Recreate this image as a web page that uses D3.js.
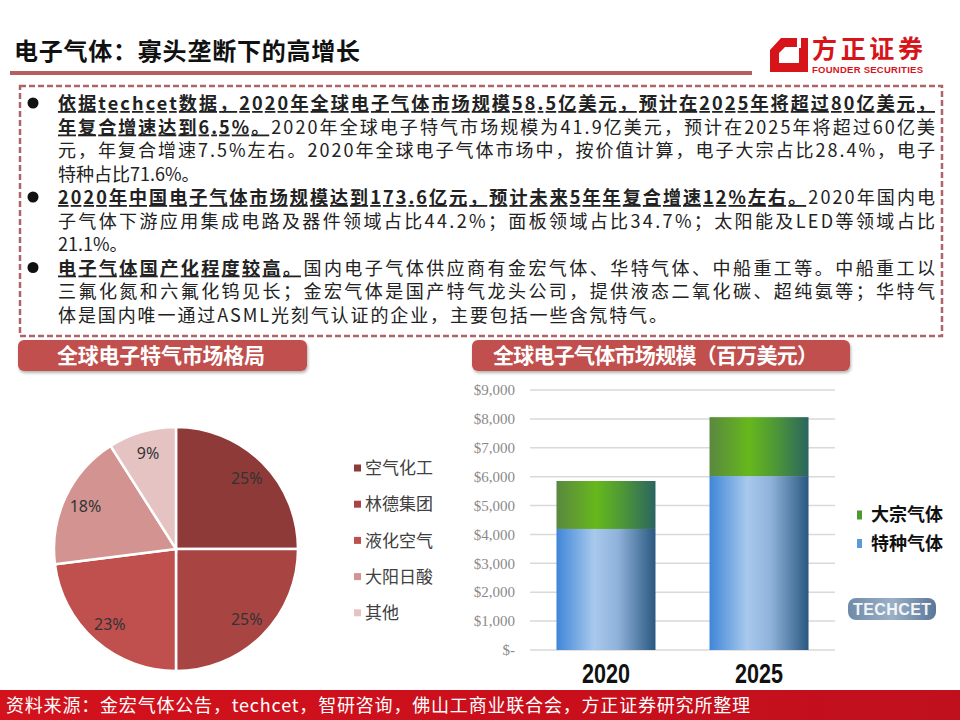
<!DOCTYPE html>
<html>
<head>
<meta charset="utf-8">
<script src="https://cdn.jsdelivr.net/npm/d3@7"></script>
<style>
  html, body { margin: 0; padding: 0; background: #fff; }
  svg { display: block; font-family: "Noto Sans CJK SC", "Noto Sans", sans-serif; }
</style>
</head>
<body>
<svg id="page" width="960" height="720"></svg>
<script>
"use strict";

/* global d3 */

// pie: global specialty gas market share
var pieNames = ['空气化工', '林德集团', '液化空气', '大阳日酸', '其他'],
    pieShares = [25, 25, 23, 18, 9],
    pieColors = ['#8e3a39', '#a84543', '#c0504d', '#d29391', '#e4c3c2'];

// stacked bars: global electronic gas market, million USD
var years = ['2020', '2025'],
    specialty = [4190, 6020],
    bulk = [1660, 2040],
    yTicks = [0, 1000, 2000, 3000, 4000, 5000, 6000, 7000, 8000, 9000],
    barLegend = ['大宗气体', '特种气体'];

// bullet text, one entry per printed line: [bold part, normal part]
var bodyLines = [
  ['依据techcet数据，2020年全球电子气体市场规模58.5亿美元，预计在2025年将超过80亿美元，', ''],
  ['年复合增速达到6.5%。', '2020年全球电子特气市场规模为41.9亿美元，预计在2025年将超过60亿美'],
  ['', '元，年复合增速7.5%左右。2020年全球电子气体市场中，按价值计算，电子大宗占比28.4%，电子'],
  ['', '特种占比71.6%。'],
  ['2020年中国电子气体市场规模达到173.6亿元，预计未来5年年复合增速12%左右。', '2020年国内电'],
  ['', '子气体下游应用集成电路及器件领域占比44.2%；面板领域占比34.7%；太阳能及LED等领域占比'],
  ['', '21.1%。'],
  ['电子气体国产化程度较高。', '国内电子气体供应商有金宏气体、华特气体、中船重工等。中船重工以'],
  ['', '三氟化氮和六氟化钨见长；金宏气体是国产特气龙头公司，提供液态二氧化碳、超纯氨等；华特气'],
  ['', '体是国内唯一通过ASML光刻气认证的企业，主要包括一些含氖特气。']
];
var bulletRows = [0, 4, 7];

var svg = d3.select('#page');
var defs = svg.append('defs');

// ---------- header ----------
svg.append('text')
    .attr('x', 14).attr('y', 60)
    .attr('textLength', 346)
    .style('font-size', '24px')
    .style('font-weight', 'bold')
    .style('fill', '#111')
    .text('电子气体：寡头垄断下的高增长');

svg.append('rect')
    .attr('x', 10).attr('y', 71)
    .attr('width', 742).attr('height', 4)
    .style('fill', '#b5605e');

// logo
svg.append('path')
    .attr('d', 'M781,38 L808,38 L808,72 L770,72 L770,50 Z M785,47 L799,47 L799,63 L779,63 L779,53 Z')
    .style('fill', '#d7141a')
    .style('fill-rule', 'evenodd');
svg.append('rect')
    .attr('x', 797).attr('y', 38).attr('width', 4).attr('height', 10)
    .style('fill', '#fff');
svg.append('text')
    .attr('x', 812).attr('y', 58)
    .attr('textLength', 111)
    .style('font-size', '25px')
    .style('font-weight', 'bold')
    .style('fill', '#d7141a')
    .text('方正证券');
svg.append('text')
    .attr('x', 812).attr('y', 73)
    .attr('textLength', 111)
    .style('font-family', '"Liberation Sans", sans-serif')
    .style('font-size', '9.5px')
    .style('font-weight', 'bold')
    .style('fill', '#d7141a')
    .text('FOUNDER SECURITIES');

// ---------- dashed text box ----------
svg.append('rect')
    .attr('x', 20).attr('y', 86)
    .attr('width', 922).attr('height', 250)
    .style('fill', 'none')
    .style('stroke', '#b0646a')
    .style('stroke-width', 2.5)
    .style('stroke-dasharray', '6,3');

var lineY = function(i) {return 110 + i * 23.5;};
// printed width of each line (justified lines span the box, 0 = natural)
var lineWidths = [877, 877, 877, 0, 877, 877, 0, 877, 877, 609];

bulletRows.forEach(function(r) {
  svg.append('circle')
      .attr('cx', 33).attr('cy', lineY(r) - 7)
      .attr('r', 5.5)
      .style('fill', '#111');
});

bodyLines.forEach(function(l, i) {
  var t = svg.append('text')
      .attr('x', 58).attr('y', lineY(i))
      .style('font-size', '18px')
      .style('fill', '#222');
  if (lineWidths[i]) {
    t.attr('textLength', lineWidths[i]).attr('lengthAdjust', 'spacing');
  }
  if (l[0]) {
    t.append('tspan')
        .style('font-weight', 'bold')
        .style('text-decoration', 'underline')
        .text(l[0]);
  }
  if (l[1]) {
    t.append('tspan').text(l[1]);
  }
});

// ---------- section banners ----------
var shadow = defs.append('filter').attr('id', 'shadow')
    .attr('x', '-5%').attr('y', '-20%').attr('width', '110%').attr('height', '160%');
shadow.append('feDropShadow')
    .attr('dx', 1).attr('dy', 2).attr('stdDeviation', 1.5)
    .attr('flood-color', '#000').attr('flood-opacity', 0.3);

function banner(x, w, tx, tw, label) {
  svg.append('rect')
      .attr('x', x).attr('y', 340)
      .attr('width', w).attr('height', 31)
      .attr('rx', 6)
      .attr('filter', 'url(#shadow)')
      .style('fill', '#c0504d');
  svg.append('text')
      .attr('x', tx).attr('y', 363)
      .attr('textLength', tw)
      .style('font-size', '21px')
      .style('font-weight', 'bold')
      .style('fill', '#fff')
      .text(label);
}
banner(18, 289, 57, 208, '全球电子特气市场格局');
banner(472, 378, 493, 325, '全球电子气体市场规模（百万美元）');

// ---------- pie ----------
var cx = 176, cy = 549, radius = 122;

var pie = d3.pie().sort(null).value(function(d) {return d;});
var arc = d3.arc().innerRadius(0).outerRadius(radius);
var labelArc = d3.arc().innerRadius(radius * 0.82).outerRadius(radius * 0.82);

var pieG = svg.append('g').attr('transform', 'translate(' + cx + ',' + cy + ')');

pieG.selectAll('path')
    .data(pie(pieShares)).enter()
  .append('path')
    .attr('d', arc)
    .style('fill', function(d, i) {return pieColors[i];})
    .style('stroke', '#fff')
    .style('stroke-width', 2.5);

pieG.selectAll('text')
    .data(pie(pieShares)).enter()
  .append('text')
    .attr('transform', function(d) {return 'translate(' + labelArc.centroid(d) + ')';})
    .attr('dy', '0.35em')
    .attr('text-anchor', 'middle')
    .style('font-family', '"Noto Sans", sans-serif')
    .style('font-size', '16px')
    .style('fill', '#333')
    .text(function(d) {return d.value + '%';});

var pieLegend = svg.append('g').selectAll('g')
    .data(pieNames).enter()
  .append('g')
    .attr('transform', function(d, i) {return 'translate(354,' + (468 + i * 36.2) + ')';});
pieLegend.append('rect')
    .attr('x', 0).attr('y', -3.5)
    .attr('width', 7).attr('height', 7)
    .style('fill', function(d, i) {return pieColors[i];});
pieLegend.append('text')
    .attr('x', 11).attr('dy', '0.36em')
    .style('font-size', '17px')
    .style('fill', '#404040')
    .text(function(d) {return d;});

// ---------- stacked bars ----------
var y = d3.scaleLinear().domain([0, 9000]).range([650, 390]);
var x = d3.scaleBand().domain(years).range([530, 835])
    .paddingInner(0.353).paddingOuter(0.173);

svg.append('g').selectAll('line')
    .data(yTicks).enter()
  .append('line')
    .attr('x1', 530).attr('x2', 835)
    .attr('y1', function(d) {return y(d);})
    .attr('y2', function(d) {return y(d);})
    .style('stroke', '#d9d9d9')
    .style('stroke-width', 1.5);

svg.append('g').selectAll('text')
    .data(yTicks).enter()
  .append('text')
    .attr('x', 515)
    .attr('y', function(d) {return y(d);})
    .attr('dy', '0.35em')
    .attr('text-anchor', 'end')
    .style('font-family', '"Liberation Serif", serif')
    .style('font-size', '15px')
    .style('fill', '#8a8a8a')
    .text(function(d) {return d ? d3.format('$,')(d) : '$-';});

function hGrad(id, stops) {
  var g = defs.append('linearGradient').attr('id', id)
      .attr('x1', '0').attr('x2', '1').attr('y1', '0').attr('y2', '0');
  stops.forEach(function(s) {
    g.append('stop').attr('offset', s[0]).attr('stop-color', s[1]);
  });
}
hGrad('blueGrad', [[0, '#3f86d8'], [0.38, '#a8c9ec'], [0.62, '#8fb2da'], [1, '#2a5880']]);
hGrad('greenGrad', [[0, '#5a8840'], [0.4, '#66b81c'], [0.65, '#4f9a35'], [1, '#2a6560']]);

var barData = years.map(function(yr, i) {
  return {year: yr, specialty: specialty[i], bulk: bulk[i]};
});
var stack = d3.stack().keys(['specialty', 'bulk']);
var series = stack(barData);
var fills = {specialty: 'url(#blueGrad)', bulk: 'url(#greenGrad)'};

svg.append('g').selectAll('g')
    .data(series).enter()
  .append('g')
    .style('fill', function(s) {return fills[s.key];})
  .selectAll('rect')
    .data(function(s) {return s;}).enter()
  .append('rect')
    .attr('x', function(d) {return x(d.data.year);})
    .attr('width', x.bandwidth())
    .attr('y', function(d) {return y(d[1]);})
    .attr('height', function(d) {return y(d[0]) - y(d[1]);});

svg.append('g').selectAll('text')
    .data(years).enter()
  .append('text')
    .attr('x', function(d) {return x(d) + x.bandwidth() / 2 - 24;})
    .attr('y', 683)
    .attr('textLength', 48)
    .attr('lengthAdjust', 'spacingAndGlyphs')
    .style('font-family', '"Liberation Sans", sans-serif')
    .style('font-size', '27px')
    .style('font-weight', 'bold')
    .style('fill', '#111')
    .text(function(d) {return d;});

var barLegendColors = ['#4e9a2c', '#5b9bd5'];
var bl = svg.append('g').selectAll('g')
    .data(barLegend).enter()
  .append('g')
    .attr('transform', function(d, i) {return 'translate(857,' + (515 + i * 28.5) + ')';});
bl.append('rect')
    .attr('x', 0).attr('y', -4.5)
    .attr('width', 5).attr('height', 9)
    .style('fill', function(d, i) {return barLegendColors[i];});
bl.append('text')
    .attr('x', 14).attr('dy', '0.36em')
    .style('font-size', '18px')
    .style('font-weight', 'bold')
    .style('fill', '#111')
    .text(function(d) {return d;});

// techcet mark
hGrad('techGrad', [[0, '#6f8aa8'], [0.5, '#9bb0c6'], [1, '#5a7698']]);
svg.append('rect')
    .attr('x', 848).attr('y', 598)
    .attr('width', 88).attr('height', 22)
    .attr('rx', 8)
    .style('fill', 'url(#techGrad)');
svg.append('text')
    .attr('x', 853).attr('y', 615)
    .attr('textLength', 78)
    .style('font-family', '"Liberation Sans", sans-serif')
    .style('font-size', '16px')
    .style('font-weight', 'bold')
    .style('fill', '#f4f6f9')
    .text('TECHCET');

// ---------- footer ----------
hGrad('footGrad', [[0, '#d3121c'], [0.6, '#c90f1c'], [1, '#c0101e']]);
svg.append('rect')
    .attr('x', 0).attr('y', 690)
    .attr('width', 960).attr('height', 30)
    .style('fill', 'url(#footGrad)');
svg.append('text')
    .attr('x', 6).attr('y', 712)
    .attr('textLength', 744)
    .style('font-size', '18px')
    .style('fill', '#fff')
    .text('资料来源：金宏气体公告，techcet，智研咨询，佛山工商业联合会，方正证券研究所整理');
</script>
</body>
</html>
